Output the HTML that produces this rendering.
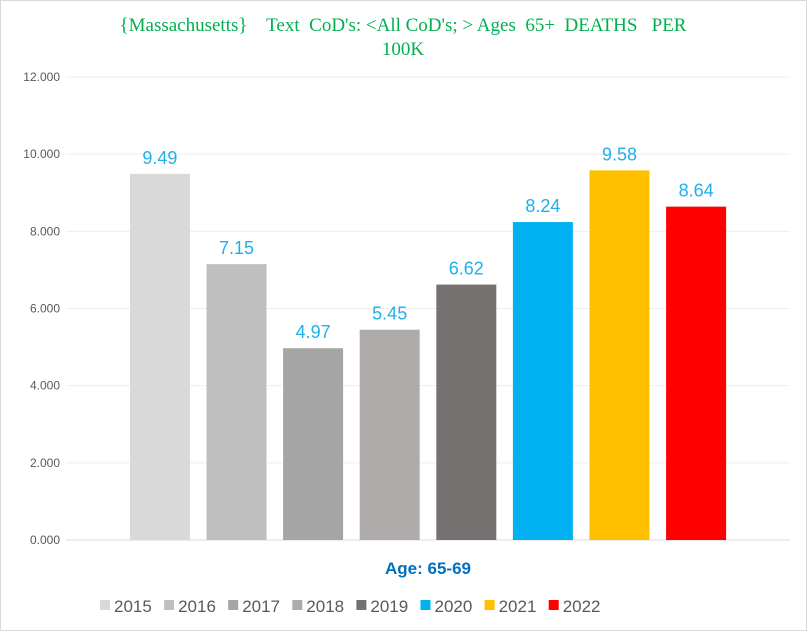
<!DOCTYPE html>
<html><head><meta charset="utf-8"><style>
body{margin:0;background:#fff}
svg{display:block;font-family:"Liberation Sans",sans-serif}
.pre{white-space:pre}
</style></head><body>
<svg width="807" height="631" id="c">
<rect x="0.5" y="0.5" width="806" height="630" fill="#fff" stroke="#d9d9d9"/>
<text class="pre" x="403" y="31" text-anchor="middle" font-family="Liberation Serif,serif" font-size="19" fill="#00b050">{Massachusetts}    Text  CoD's: &lt;All CoD's; &gt; Ages  65+  DEATHS   PER</text>
<text x="403" y="55" text-anchor="middle" font-family="Liberation Serif,serif" font-size="19" fill="#00b050">100K</text>
<g id="grid"></g><g id="bars"></g><g id="legend"></g>
<text x="428" y="574" text-anchor="middle" font-size="17" font-weight="bold" fill="#0070c0">Age: 65-69</text>
</svg>
<script>
const years=["2015","2016","2017","2018","2019","2020","2021","2022"];
const values=[9.49,7.15,4.97,5.45,6.62,8.24,9.58,8.64];
const yTicks=[0,2,4,6,8,10,12];
const colors=["#d9d9d9","#bfbfbf","#a5a5a5","#afabab","#767171","#00b0f0","#ffc000","#ff0000"];
const NS="http://www.w3.org/2000/svg";
const y0=540,y1=77,left=66,right=790;
const ys=v=>y0-(v/12)*(y0-y1);
function mk(t,a,p,txt){const e=document.createElementNS(NS,t);for(const k in a)e.setAttribute(k,a[k]);if(txt!=null)e.textContent=txt;p.appendChild(e);return e;}
const g=document.getElementById('grid');
yTicks.forEach(v=>{
 const l=mk('line',{x1:left,x2:right,y1:ys(v),y2:ys(v),stroke:v===0?'#d9d9d9':'#eeeeee'},g);
 
 
 const t=mk('text',{x:60,y:ys(v)+4,'text-anchor':'end','font-size':12,fill:'#595959'},g,v.toFixed(3));
 
 
});
const b=document.getElementById('bars');
const step=76.6,cx0=(left+right)/2-step*(years.length-1)/2,bw=60;
values.forEach((v,i)=>{
 const cx=cx0+i*step;
 const r=mk('rect',{x:cx-bw/2,y:ys(v),width:bw,height:y0-ys(v),fill:colors[i]},b);
 
 
 const t=mk('text',{x:cx,y:ys(v)-10,'text-anchor':'middle','font-size':18,fill:'#1fb0ec'},b,v.toFixed(2));
 
 
});
const lg=document.getElementById('legend');
years.forEach((y,i)=>{
 const x=100+i*64.1;
 const r=mk('rect',{x:x,y:600,width:10,height:10,fill:colors[i]},lg);
 
 
 const t=mk('text',{x:x+14,y:612,'font-size':17,fill:'#595959'},lg,y);
 
 
});
</script>
</body></html>
